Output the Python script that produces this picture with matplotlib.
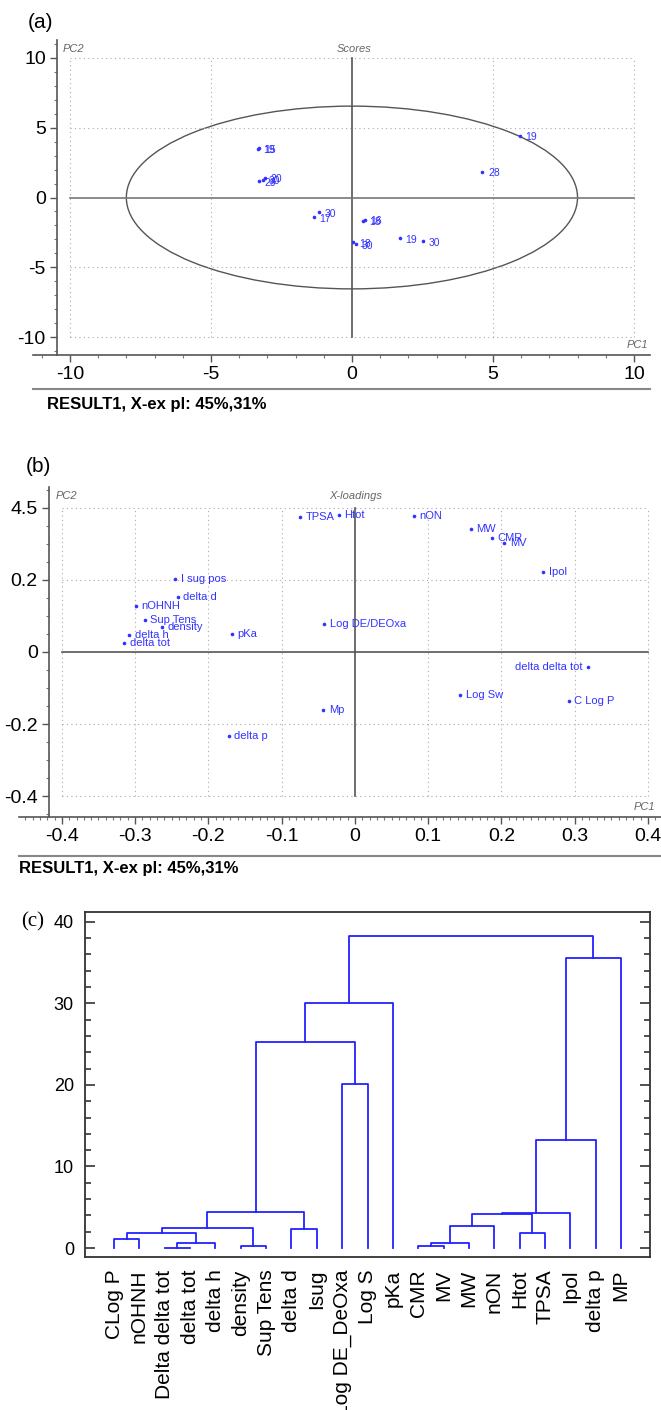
import matplotlib
matplotlib.use('Agg')
import matplotlib.pyplot as plt
from matplotlib.patches import Ellipse
from matplotlib.lines import Line2D
from matplotlib.ticker import MultipleLocator

plt.rcParams['font.family'] = ['Liberation Sans', 'DejaVu Sans']
plt.rcParams['axes.unicode_minus'] = False  # hyphen minus like the original

# ---- (a) scores ----
score_x = [-3.34, -3.30, -3.29, -3.08, -3.15, -1.34, -1.17, 0.40, 0.45, 0.05, 0.15, 1.70, 2.51, 4.63, 5.96]
score_y = [3.49, 3.52, 1.17, 1.41, 1.25, -1.41, -1.05, -1.65, -1.62, -3.20, -3.35, -2.92, -3.13, 1.82, 4.44]
score_labels = ['19', '15', '29', '20', '30', '17', '30', '18', '16', '18', '30', '19', '30', '28', '19']
score_ticks = [-10, -5, 0, 5, 10]
ellipse_w, ellipse_h = 16.0, 13.1

# ---- (b) loadings ----
load_labels = ['TPSA', 'Htot', 'nON', 'MW', 'CMR', 'MV', 'Ipol', 'I sug pos', 'delta d', 'nOHNH',
               'Sup Tens', 'density', 'delta h', 'delta tot', 'pKa', 'Log DE/DEOxa',
               'delta delta tot', 'Log Sw', 'C Log P', 'Mp', 'delta p']
load_x = [-0.075, -0.022, 0.080, 0.158, 0.187, 0.204, 0.257, -0.245, -0.242, -0.299,
          -0.287, -0.264, -0.308, -0.315, -0.168, -0.042, 0.318, 0.144, 0.292, -0.043, -0.172]
load_y = [0.375, 0.380, 0.379, 0.343, 0.317, 0.302, 0.221, 0.202, 0.154, 0.129,
          0.090, 0.069, 0.047, 0.024, 0.049, 0.077, -0.042, -0.120, -0.136, -0.162, -0.232]
load_xticks = [-0.4, -0.3, -0.2, -0.1, 0, 0.1, 0.2, 0.3, 0.4]
load_xticklabels = ['-0.4', '-0.3', '-0.2', '-0.1', '0', '0.1', '0.2', '0.3', '0.4']
load_yticks = [0.4, 0.2, 0, -0.2, -0.4]
load_yticklabels = ['4.5', '0.2', '0', '-0.2', '-0.4']

# ---- (c) dendrogram ----
leaf_labels = ['CLog P', 'nOHNH', 'Delta delta tot', 'delta tot', 'delta h', 'density', 'Sup Tens',
               'delta d', 'Isug', 'Log DE_DeOxa', 'Log S', 'pKa', 'CMR', 'MV', 'MW', 'nON',
               'Htot', 'TPSA', 'Ipol', 'delta p', 'MP']
merge_left = [2, 5, 12, 21, 23, 0, 26, 16, 7, 27, 25, 31, 32, 30, 33, 9, 34, 37, 35, 38]
merge_right = [3, 6, 13, 4, 14, 1, 24, 17, 8, 22, 15, 28, 18, 29, 19, 10, 36, 11, 20, 39]
merge_height = [0.05, 0.25, 0.2, 0.6, 0.6, 1.15, 1.8, 1.9, 2.3, 2.4, 2.65, 4.15, 4.3, 4.45,
                13.3, 20.1, 25.3, 30.1, 35.6, 38.2]

blue = '#3333ff'
W, H = 661, 1410
fig = plt.figure(figsize=(W / 100, H / 100), dpi=100)


def add_axes_px(left, top, right, bottom):
    return fig.add_axes([left / W, 1 - bottom / H, (right - left) / W, (bottom - top) / H])


def style_pca_axes(ax, left_spine_at):
    ax.spines['top'].set_visible(False)
    ax.spines['right'].set_visible(False)
    ax.spines['left'].set_position(('data', left_spine_at))
    for s in ['left', 'bottom']:
        ax.spines[s].set_color('#555555')
        ax.spines[s].set_linewidth(1.2)
    ax.tick_params(which='major', direction='out', length=5, width=1, color='#555555',
                   labelsize=14, pad=3)
    ax.tick_params(which='minor', direction='out', length=2.5, width=0.8, color='#777777')


dot = (0, (1, 3))

# (a) scores plot
ax1 = add_axes_px(33, 40, 650, 355)
ax1.set_xlim(-11.31, 10.57)
ax1.set_ylim(-11.29, 11.29)
lo, hi = score_ticks[0], score_ticks[-1]
for v in score_ticks:
    if v != 0:
        ax1.plot([v, v], [lo, hi], ls=dot, color='#aaaaaa', lw=0.8)
        ax1.plot([lo, hi], [v, v], ls=dot, color='#aaaaaa', lw=0.8)
ax1.plot([0, 0], [lo, hi], color='#555555', lw=1.2)
ax1.plot([lo, hi], [0, 0], color='#777777', lw=1.2)
ax1.add_patch(Ellipse((0, 0), ellipse_w, ellipse_h, fill=False, edgecolor='#555555', lw=1))
ax1.plot(score_x, score_y, 'o', ms=1.6, color=blue)
for x, y, s in zip(score_x, score_y, score_labels):
    ax1.annotate(s, (x, y), xytext=(4, -1), textcoords='offset points', fontsize=7.5,
                 color=blue, va='center')
ax1.set_xticks(score_ticks)
ax1.set_yticks(score_ticks)
ax1.xaxis.set_minor_locator(MultipleLocator(1))
ax1.yaxis.set_minor_locator(MultipleLocator(1))
style_pca_axes(ax1, -10.46)

# (b) loadings plot
ax2 = add_axes_px(19, 487, 661, 817)
ax2.set_xlim(-0.4585, 0.4177)
ax2.set_ylim(-0.4583, 0.4583)
for v in load_xticks:
    if v != 0:
        ax2.plot([v, v], [-0.4, 0.4], ls=dot, color='#aaaaaa', lw=0.8)
for v in load_yticks:
    if v != 0:
        ax2.plot([-0.4, 0.4], [v, v], ls=dot, color='#aaaaaa', lw=0.8)
ax2.plot([0, 0], [-0.4, 0.4], color='#555555', lw=1.2)
ax2.plot([-0.4, 0.4], [0, 0], color='#555555', lw=1.2)
ax2.plot(load_x, load_y, 'o', ms=1.6, color=blue)
for x, y, s in zip(load_x, load_y, load_labels):
    if s == 'delta delta tot':
        ax2.annotate(s, (x, y), xytext=(-4, 0), textcoords='offset points', fontsize=8,
                     color=blue, va='center', ha='right')
    else:
        ax2.annotate(s, (x, y), xytext=(4, 0), textcoords='offset points', fontsize=8,
                     color=blue, va='center')
ax2.set_xticks(load_xticks)
ax2.set_xticklabels(load_xticklabels)
ax2.set_yticks(load_yticks)
ax2.set_yticklabels(load_yticklabels)
ax2.xaxis.set_minor_locator(MultipleLocator(0.01))
ax2.yaxis.set_minor_locator(MultipleLocator(0.05))
style_pca_axes(ax2, -0.4177)

# small italic captions, separator lines and footers
cap = dict(fontsize=8, style='italic', color='#666666', va='center')
fig.text(63 / W, 1 - 49 / H, 'PC2', **cap)
fig.text(354 / W, 1 - 49 / H, 'Scores', ha='center', **cap)
fig.text(648 / W, 1 - 345 / H, 'PC1', ha='right', **cap)
fig.text(56 / W, 1 - 496 / H, 'PC2', **cap)
fig.text(356 / W, 1 - 496 / H, 'X-loadings', ha='center', **cap)
fig.text(655 / W, 1 - 807 / H, 'PC1', ha='right', **cap)

fig.add_artist(Line2D([33 / W, 650 / W], [1 - 389 / H] * 2, color='#888888', lw=1.5))
fig.add_artist(Line2D([19 / W, 1.0], [1 - 856 / H] * 2, color='#888888', lw=1.5))
foot = dict(fontsize=12, fontweight='bold', va='center')
fig.text(47 / W, 1 - 405 / H, 'RESULT1, X-ex pl: 45%,31%', **foot)
fig.text(19 / W, 1 - 868 / H, 'RESULT1, X-ex pl: 45%,31%', **foot)

fig.text(28 / W, 1 - 22 / H, '(a)', fontsize=15, va='center')
fig.text(26 / W, 1 - 467 / H, '(b)', fontsize=15, va='center')
fig.text(21 / W, 1 - 922 / H, '(c)', fontsize=15, va='center', family='Liberation Serif')

# (c) dendrogram
ax3 = add_axes_px(85, 912, 650, 1257)
node_x = list(range(len(leaf_labels)))
node_h = [0.0] * len(leaf_labels)
for l, r, h in zip(merge_left, merge_right, merge_height):
    ax3.plot([node_x[l], node_x[l], node_x[r], node_x[r]], [node_h[l], h, h, node_h[r]],
             color='#2222ff', lw=1.3)
    node_x.append((node_x[l] + node_x[r]) / 2)
    node_h.append(h)
ax3.set_xlim(-1.144, len(leaf_labels) - 1 + 1.144)
ax3.set_ylim(-1.1, 41.2)
ax3.set_xticks(range(len(leaf_labels)))
ax3.set_xticklabels(leaf_labels, rotation=90, fontsize=15)
ax3.tick_params(axis='x', length=0, pad=9)
ax3.set_yticks([0, 10, 20, 30, 40])
ax3.yaxis.set_minor_locator(MultipleLocator(2))
ax3.tick_params(axis='y', which='both', direction='in', left=True, right=True, labelsize=13,
                color='#333333', pad=8)
ax3.tick_params(axis='y', which='major', length=7, width=1.2)
ax3.tick_params(axis='y', which='minor', length=4, width=1.2)
for s in ax3.spines.values():
    s.set_color('#333333')
    s.set_linewidth(1.3)

fig.savefig('out.png', dpi=100)
